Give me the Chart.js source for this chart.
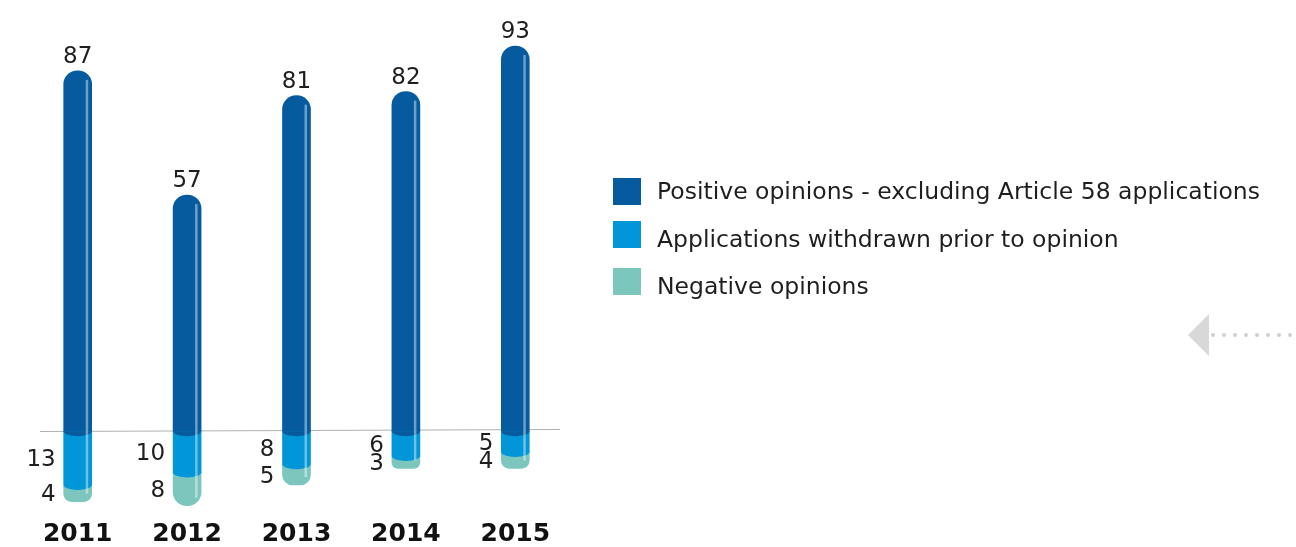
<!DOCTYPE html>
<html>
<head>
<meta charset="utf-8">
<script src="https://cdn.jsdelivr.net/npm/chart.js@4.4.1/dist/chart.umd.min.js"></script>
<style>
  html, body { margin: 0; padding: 0; background: #ffffff; }
  #wrap { width: 1296px; height: 547px; position: relative; }
</style>
</head>
<body>
<div id="wrap"><canvas id="c" width="1296" height="547"></canvas></div>
<script>
const years = ['2011', '2012', '2013', '2014', '2015'];
const positiveOpinions = [87, 57, 81, 82, 93];
const withdrawnApplications = [13, 10, 8, 6, 5];
const negativeOpinions = [4, 8, 5, 3, 4];
const seriesLabels = [
  'Positive opinions - excluding Article 58 applications',
  'Applications withdrawn prior to opinion',
  'Negative opinions'
];
const seriesColors = ['#065B9E', '#0196D8', '#7CC6BE'];

const FONT = '"DejaVu Sans", Verdana, sans-serif';

const decorPlugin = {
  id: 'decor',
  beforeDatasetsDraw(chart) {
    const ctx = chart.ctx;
    const y0 = chart.scales.y.getPixelForValue(0);
    ctx.save();
    ctx.strokeStyle = '#b0b0b0';
    ctx.lineWidth = 1;
    ctx.beginPath();
    ctx.moveTo(40, Math.round(y0) + 0.5);
    ctx.lineTo(560, Math.round(y0) - 1.5);
    ctx.stroke();
    ctx.restore();
  },
  afterDatasetsDraw(chart) {
    const ctx = chart.ctx;
    ctx.save();
    // rounded overlapping caps for inner segments
    [0, 1].forEach(di => {
      const meta = chart.getDatasetMeta(di);
      meta.data.forEach(bar => {
        const p = bar.getProps(['x', 'y', 'base', 'width'], true);
        const bottom = Math.max(p.y, p.base);
        ctx.fillStyle = seriesColors[di];
        ctx.beginPath();
        ctx.ellipse(p.x, bottom, p.width / 2, 5, 0, 0, Math.PI);
        ctx.fill();
      });
    });
    // glossy highlight stripes
    chart.data.datasets.forEach((ds, di) => {
      const meta = chart.getDatasetMeta(di);
      meta.data.forEach(bar => {
        const p = bar.getProps(['x', 'y', 'base', 'width'], true);
        const top = Math.min(p.y, p.base);
        const bot = Math.max(p.y, p.base);
        let t = top, b = bot;
        if (di === 0) t += 9;
        if (di === 2) b -= 8;
        if (b <= t) return;
        ctx.fillStyle = 'rgba(255,255,255,0.42)';
        ctx.fillRect(p.x + p.width / 2 - 6, t, 2.5, b - t);
      });
    });
    ctx.restore();
  },
  afterDraw(chart) {
    const ctx = chart.ctx;
    ctx.save();
    ctx.font = '23px ' + FONT;
    ctx.fillStyle = '#1e1e1e';
    ctx.textBaseline = 'alphabetic';
    // value labels
    const m0 = chart.getDatasetMeta(0);
    m0.data.forEach((bar, i) => {
      ctx.textAlign = 'center';
      ctx.fillText(String(positiveOpinions[i]), bar.x, bar.y - 8);
    });
    [1, 2].forEach(di => {
      const meta = chart.getDatasetMeta(di);
      const vals = di === 1 ? withdrawnApplications : negativeOpinions;
      meta.data.forEach((bar, i) => {
        const p = bar.getProps(['x', 'y', 'base', 'width'], true);
        ctx.textAlign = 'right';
        ctx.fillText(String(vals[i]), p.x - p.width / 2 - 8, (p.y + p.base) / 2 + 8);
      });
    });
    // legend
    const legBoxY = [178, 221, 268];
    const legTextY = [199, 247, 294];
    ctx.font = '23.5px ' + FONT;
    chart.data.datasets.forEach((ds, di) => {
      ctx.fillStyle = ds.backgroundColor;
      ctx.fillRect(613, legBoxY[di], 28, 27);
      ctx.fillStyle = '#1e1e1e';
      ctx.textAlign = 'left';
      ctx.fillText(ds.label, 657, legTextY[di]);
    });
    // decorative arrow
    ctx.fillStyle = '#d8d8d8';
    ctx.beginPath();
    ctx.moveTo(1188, 335);
    ctx.lineTo(1209, 314);
    ctx.lineTo(1209, 356);
    ctx.closePath();
    ctx.fill();
    ctx.fillStyle = '#cfcfcf';
    for (let x = 1213; x <= 1290; x += 11) {
      ctx.beginPath();
      ctx.arc(x, 335, 2, 0, Math.PI * 2);
      ctx.fill();
    }
    ctx.restore();
  }
};

new Chart(document.getElementById('c'), {
  type: 'bar',
  data: {
    labels: years,
    datasets: [
      { label: seriesLabels[0], data: positiveOpinions, backgroundColor: seriesColors[0],
        borderRadius: { topLeft: 14, topRight: 14, bottomLeft: 0, bottomRight: 0 } },
      { label: seriesLabels[1], data: withdrawnApplications.map(v => -v), backgroundColor: seriesColors[1],
        borderRadius: 0 },
      { label: seriesLabels[2], data: negativeOpinions.map(v => -v), backgroundColor: seriesColors[2],
        borderRadius: { topLeft: 0, topRight: 0, bottomLeft: 14, bottomRight: 14 } }
    ]
  },
  options: {
    responsive: false,
    animation: false,
    layout: { padding: { left: 23, right: 726, top: 17, bottom: 0 } },
    datasets: { bar: { barThickness: 28, borderSkipped: false } },
    plugins: { legend: { display: false }, tooltip: { enabled: false } },
    scales: {
      x: {
        stacked: true,
        grid: { display: false },
        border: { display: false },
        ticks: {
          padding: 0,
          color: '#111',
          font: { family: FONT, size: 25, weight: 'bold', lineHeight: 1 }
        }
      },
      y: {
        stacked: true,
        display: false,
        min: -20,
        max: 100
      }
    }
  },
  plugins: [decorPlugin]
});
</script>
</body>
</html>
